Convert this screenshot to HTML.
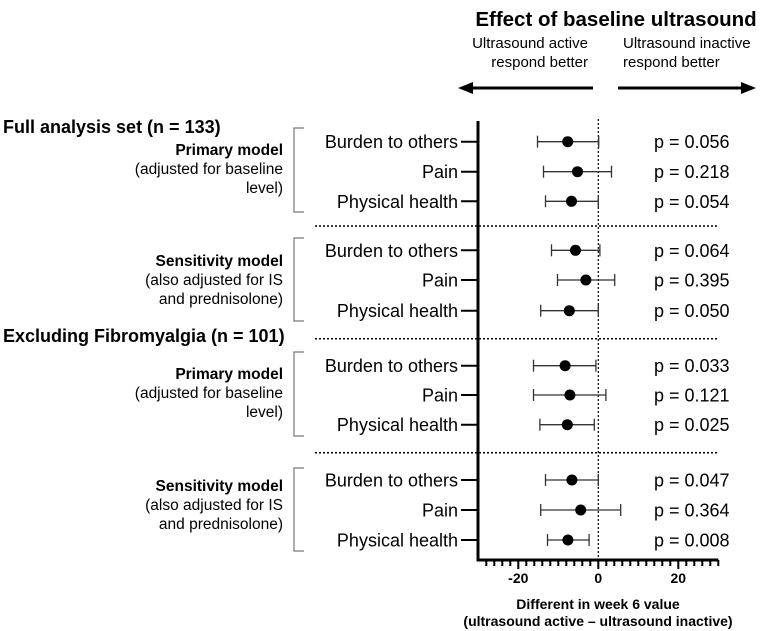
<!DOCTYPE html>
<html><head><meta charset="utf-8"><style>
body{margin:0;background:#fff;}
svg{display:block;font-family:"Liberation Sans",Arial,sans-serif;}
</style></head><body>
<svg width="760" height="631" viewBox="0 0 760 631">
<text x="616" y="26" text-anchor="middle" font-size="20.5" font-weight="bold">Effect of baseline ultrasound</text>
<text x="588" y="48" text-anchor="end" font-size="15"><tspan x="588">Ultrasound active</tspan><tspan x="588" dy="19">respond better</tspan></text>
<text x="623" y="48" font-size="15"><tspan x="623">Ultrasound inactive</tspan><tspan x="623" dy="19">respond better</tspan></text>
<g><line x1="470" y1="88" x2="593" y2="88" stroke="#000" stroke-width="3"/><polygon points="458,88 473,82 473,94" fill="#000"/></g>
<g><line x1="618" y1="88" x2="744" y2="88" stroke="#000" stroke-width="3"/><polygon points="756,88 741,82 741,94" fill="#000"/></g>
<text x="3" y="133" font-size="18" font-weight="bold">Full analysis set (n = 133)</text>
<text x="3" y="342" font-size="18" font-weight="bold">Excluding Fibromyalgia (n = 101)</text>
<g id="groups"></g>
<g id="plot"></g>
</svg>
<script>
const rowLabels=["Burden to others","Pain","Physical health","Burden to others","Pain","Physical health","Burden to others","Pain","Physical health","Burden to others","Pain","Physical health"];
const estimates=[-7.65,-5.2,-6.7,-5.7,-3.1,-7.25,-8.3,-7.1,-7.75,-6.6,-4.4,-7.6];
const lower=[-15.2,-13.7,-13.2,-11.7,-10.2,-14.4,-16.2,-16.2,-14.6,-13.2,-14.4,-12.7];
const upper=[0.1,3.3,0,0.4,4.1,0,-0.6,1.9,-1,0,5.6,-2.3];
const pValues=["p = 0.056","p = 0.218","p = 0.054","p = 0.064","p = 0.395","p = 0.050","p = 0.033","p = 0.121","p = 0.025","p = 0.047","p = 0.364","p = 0.008"];
const xTicks=[-20,0,20];
const xMin=-30,xMax=30;
const NS="http://www.w3.org/2000/svg";
const rowY=[141.7,171.7,201.3,250.3,280,310.7,365.7,395,424.7,480,510,540];
const x=v=>598.3+(v)*4;
const plot=document.getElementById('plot');
const groups=document.getElementById('groups');
function mk(tag,attrs,parent){const e=document.createElementNS(NS,tag);for(const k in attrs)e.setAttribute(k,attrs[k]);parent.appendChild(e);return e;}
const models=[["Primary model","(adjusted for baseline","level)"],["Sensitivity model","(also adjusted for IS","and prednisolone)"],["Primary model","(adjusted for baseline","level)"],["Sensitivity model","(also adjusted for IS","and prednisolone)"]];
const brTop=[128,238,352,468],brBot=[212,321,436,551];
const textY=[155,266,379,491];
models.forEach((m,i)=>{
  const g=mk('g',{},groups);
  
  
  const t=mk('text',{x:283,y:textY[i],'text-anchor':'end','font-size':15.5},g);
  m.forEach((s,j)=>{const ts=mk('tspan',{x:283,dy:j?19:0},t);ts.textContent=s;if(j==0)ts.setAttribute('font-weight','bold');});
  const b=mk('path',{d:`M304 ${brTop[i]} H294 V${brBot[i]} H304`,fill:'none',stroke:'#777','stroke-width':1.2},groups);
  
  
});
[226,338.7,452.7].forEach(y=>{
  const l=mk('line',{x1:315,y1:y,x2:718,y2:y,stroke:'#000','stroke-width':1.5,'stroke-dasharray':'2,2'},plot);
  
  
});
const z=mk('line',{x1:x(0),y1:119,x2:x(0),y2:560,stroke:'#000','stroke-width':1.2,'stroke-dasharray':'2,2'},plot);


const ya=mk('line',{x1:478,y1:121,x2:478,y2:561.5,stroke:'#000','stroke-width':3},plot);


const xa=mk('line',{x1:476.5,y1:560,x2:x(xMax),y2:560,stroke:'#000','stroke-width':3},plot);


for(let v=xMin+2;v<=xMax;v+=2){
  const major=xTicks.includes(v);
  const t=mk('line',{x1:x(v),y1:560,x2:x(v),y2:major?569:566,stroke:'#000','stroke-width':2},plot);
  
  
}
xTicks.forEach(v=>{
  const t=mk('text',{x:x(v),y:583,'text-anchor':'middle','font-size':14,'font-weight':'bold'},plot);
  t.textContent=v;
  
  
});
const at=mk('text',{x:598,y:609,'text-anchor':'middle','font-size':14,'font-weight':'bold'},plot);


[["Different in week 6 value",0],["(ultrasound active \u2013 ultrasound inactive)",17]].forEach(([s,d])=>{const ts=mk('tspan',{x:598,dy:d},at);ts.textContent=s;});
rowLabels.forEach((lab,i)=>{
  const y=rowY[i];
  const t=mk('text',{x:458,y:y+6.5,'text-anchor':'end','font-size':18},plot);
  t.textContent=lab;
  
  
  const tk=mk('line',{x1:461,y1:y,x2:478,y2:y,stroke:'#000','stroke-width':2},plot);
  
  
  const g=mk('g',{},plot);
  
  
  mk('line',{x1:x(lower[i]),y1:y,x2:x(upper[i]),y2:y,stroke:'#333','stroke-width':1.3},g);
  mk('line',{x1:x(lower[i]),y1:y-6,x2:x(lower[i]),y2:y+6,stroke:'#333','stroke-width':1.3},g);
  mk('line',{x1:x(upper[i]),y1:y-6,x2:x(upper[i]),y2:y+6,stroke:'#333','stroke-width':1.3},g);
  const c=mk('circle',{cx:x(estimates[i]),cy:y,r:5.5,fill:'#000'},g);
  
  
  const p=mk('text',{x:654,y:y+6.5,'font-size':18},plot);
  p.textContent=pValues[i];
  
  
});
</script>
</body></html>
